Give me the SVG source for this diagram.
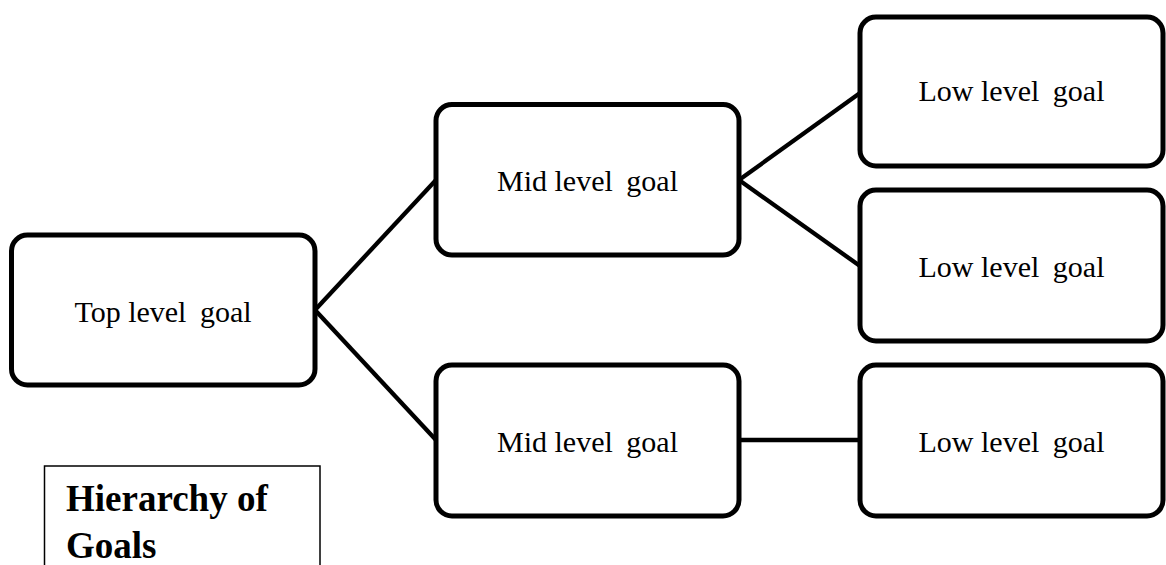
<svg xmlns="http://www.w3.org/2000/svg" width="1166" height="565" viewBox="0 0 1166 565">
<style>
.box{fill:#fff;stroke:#000;stroke-width:5}
.t{font-family:"Liberation Serif","Times New Roman",serif;font-size:30px;fill:#000;text-anchor:middle}
.c{stroke:#000;stroke-width:4.3;fill:none;stroke-linecap:butt}
.lbl{font-family:"Liberation Serif","Times New Roman",serif;font-size:37px;font-weight:bold;fill:#000}
</style>
<rect width="1166" height="565" fill="#fff"/>
<g id="connectors">
<line class="c" x1="315" y1="310" x2="436" y2="180"/>
<line class="c" x1="315" y1="310" x2="436" y2="440"/>
<line class="c" x1="739" y1="180" x2="860" y2="93"/>
<line class="c" x1="739" y1="180" x2="860" y2="266"/>
<line class="c" x1="739" y1="440" x2="860" y2="440"/>
</g>
<g id="top">
<rect class="box" x="11.5" y="235" width="303.5" height="150" rx="16"/>
<text class="t" x="163" y="321.5">Top level <tspan dx="6">goal</tspan></text>
</g>
<g id="mid1">
<rect class="box" x="436" y="104.5" width="303" height="150.5" rx="16"/>
<text class="t" x="587.5" y="191">Mid level <tspan dx="6">goal</tspan></text>
</g>
<g id="mid2">
<rect class="box" x="436" y="365" width="303" height="151" rx="16"/>
<text class="t" x="587.5" y="451.5">Mid level <tspan dx="6">goal</tspan></text>
</g>
<g id="low1">
<rect class="box" x="860" y="17" width="303" height="149" rx="16"/>
<text class="t" x="1011.5" y="101">Low level <tspan dx="6">goal</tspan></text>
</g>
<g id="low2">
<rect class="box" x="860" y="190" width="303" height="151" rx="16"/>
<text class="t" x="1011.5" y="277">Low level <tspan dx="6">goal</tspan></text>
</g>
<g id="low3">
<rect class="box" x="860" y="365" width="303" height="151" rx="16"/>
<text class="t" x="1011.5" y="451.5">Low level <tspan dx="6">goal</tspan></text>
</g>
<g id="label">
<rect x="44.5" y="466" width="275.5" height="140" fill="#fff" stroke="#000" stroke-width="1.5"/>
<text class="lbl" x="66" y="511">Hierarchy of</text>
<text class="lbl" x="66" y="558">Goals</text>
</g>
</svg>
